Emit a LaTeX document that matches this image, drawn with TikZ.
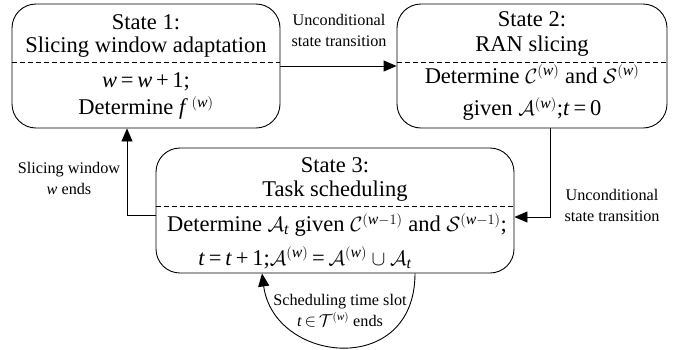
\documentclass[tikz,border=0pt]{standalone}
\usepackage{amsmath}
\usepackage{fontspec}
\setmainfont{Liberation Serif}
\usetikzlibrary{arrows.meta}
\newcommand{\vi}[1]{\textit{#1}}
\begin{document}
\begin{tikzpicture}[x=1pt,y=-1pt,
  statebox/.style={draw,line width=0.9pt,rounded corners=24pt,inner sep=0pt},
  big/.style={font=\fontsize{22.5}{26}\selectfont,inner sep=0pt},
  small/.style={font=\fontsize{16.2}{21}\selectfont,align=center,inner sep=0pt},
  sep/.style={line width=0.7pt,dash pattern=on 5pt off 3pt},
  conn/.style={line width=0.9pt,-{Triangle[length=13pt,width=11pt]}}]
\useasboundingbox (0,0) rectangle (685,349);
% boxes
\node[statebox,minimum width=268pt,minimum height=124pt] (b1) at (146,66) {};
\node[statebox,minimum width=270pt,minimum height=124pt] (b2) at (532,66) {};
\node[statebox,minimum width=358pt,minimum height=125pt] (b3) at (335,210.5) {};
% dashed separators
\draw[sep] ([yshift=4pt]b1.west) -- ([yshift=4pt]b1.east);
\draw[sep] ([yshift=4pt]b2.west) -- ([yshift=4pt]b2.east);
\draw[sep] ([yshift=4.5pt]b3.west) -- ([yshift=4.5pt]b3.east);
% texts box 1
\node[big] (t11) at (146,22) {State 1:};
\node[big] (t12) at (146,47) {Slicing window adaptation};
\node[big] (t13) at (146,82) {\vi{w}\,=\,\vi{w}\,+\,1;};
\node[big] (t14) at (146,108) {Determine \vi{f}\,$^{(\vi{w})}$};
% texts box 2
\node[big] (t21) at (532,19) {State 2:};
\node[big] (t22) at (532,46) {RAN slicing};
\node[big] (t23) at (532,74) {Determine $\mathcal{C}^{(\vi{w})}$ and $\mathcal{S}^{(\vi{w})}$};
\node[big] (t24) at (532,109) {given $\mathcal{A}^{(\vi{w})}$;\vi{t}\,=\,0};
% texts box 3
\node[big] (t31) at (335,165) {State 3:};
\node[big] (t32) at (335,191) {Task scheduling};
\node[big] (t33) at (337,225) {Determine $\mathcal{A}_{\vi{t}}$ given $\mathcal{C}^{(\vi{w}-1)}$ and $\mathcal{S}^{(\vi{w}-1)}$;};
\node[big] (t34) at (305,258) {\vi{t}\,=\,\vi{t}\,+\,1;$\mathcal{A}^{(\vi{w})}$\,=\,$\mathcal{A}^{(\vi{w})}\cup\mathcal{A}_{\vi{t}}$};
% connectors
\draw[conn] (b1.east) -- (b2.west);
\node[small] (l1) at (339,30) {Unconditional\\state transition};
\draw[conn] ([xshift=18pt]b2.south) |- ([yshift=-6.5pt]b3.east);
\node[small] (l2) at (612,205) {Unconditional\\state transition};
\draw[conn] ([yshift=-4.5pt]b3.west) -| ([xshift=-19pt]b1.south);
\node[small] (l3) at (69,178) {Slicing window\\\vi{w} ends};
\draw[conn] ([xshift=80pt]b3.south) .. controls +(0,105) and +(12,90) .. ([xshift=-73pt]b3.south);
\node[small] (l4) at (340,311) {Scheduling time slot\\\vi{t}\,$\in$\,$\mathcal{T}^{(\vi{w})}$ ends};
\end{tikzpicture}
\end{document}
